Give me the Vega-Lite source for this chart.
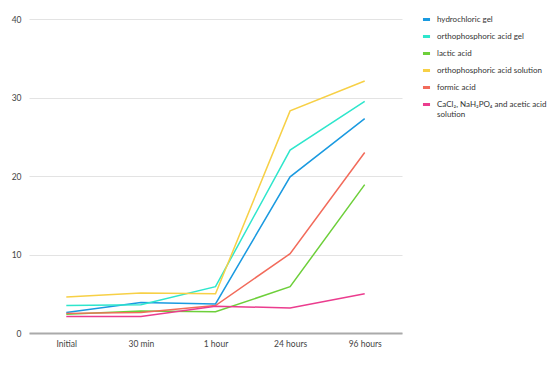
{
  "$schema": "https://vega.github.io/schema/vega-lite/v6.json",
  "width": 373,
  "height": 314,
  "autosize": "none",
  "padding": {"left": 29, "top": 19, "right": 148, "bottom": 33},
  "background": "white",
  "config": {"font": "Lato", "view": {"stroke": null}},
  "data": {"values": [
    {"t": "Initial", "s": "hydrochloric gel", "v": 2.6},
    {"t": "30 min", "s": "hydrochloric gel", "v": 3.9},
    {"t": "1 hour", "s": "hydrochloric gel", "v": 3.7},
    {"t": "24 hours", "s": "hydrochloric gel", "v": 19.9},
    {"t": "96 hours", "s": "hydrochloric gel", "v": 27.3},
    {"t": "Initial", "s": "orthophosphoric acid gel", "v": 3.5},
    {"t": "30 min", "s": "orthophosphoric acid gel", "v": 3.6},
    {"t": "1 hour", "s": "orthophosphoric acid gel", "v": 5.9},
    {"t": "24 hours", "s": "orthophosphoric acid gel", "v": 23.3},
    {"t": "96 hours", "s": "orthophosphoric acid gel", "v": 29.5},
    {"t": "Initial", "s": "lactic acid", "v": 2.4},
    {"t": "30 min", "s": "lactic acid", "v": 2.8},
    {"t": "1 hour", "s": "lactic acid", "v": 2.7},
    {"t": "24 hours", "s": "lactic acid", "v": 5.9},
    {"t": "96 hours", "s": "lactic acid", "v": 18.9},
    {"t": "Initial", "s": "orthophosphoric acid solution", "v": 4.6},
    {"t": "30 min", "s": "orthophosphoric acid solution", "v": 5.1},
    {"t": "1 hour", "s": "orthophosphoric acid solution", "v": 5.0},
    {"t": "24 hours", "s": "orthophosphoric acid solution", "v": 28.3},
    {"t": "96 hours", "s": "orthophosphoric acid solution", "v": 32.1},
    {"t": "Initial", "s": "formic acid", "v": 2.5},
    {"t": "30 min", "s": "formic acid", "v": 2.6},
    {"t": "1 hour", "s": "formic acid", "v": 3.5},
    {"t": "24 hours", "s": "formic acid", "v": 10.1},
    {"t": "96 hours", "s": "formic acid", "v": 23.0},
    {"t": "Initial", "s": "CaCl₂, NaH₂PO₄ and acetic acid solution", "v": 2.1},
    {"t": "30 min", "s": "CaCl₂, NaH₂PO₄ and acetic acid solution", "v": 2.1},
    {"t": "1 hour", "s": "CaCl₂, NaH₂PO₄ and acetic acid solution", "v": 3.4},
    {"t": "24 hours", "s": "CaCl₂, NaH₂PO₄ and acetic acid solution", "v": 3.2},
    {"t": "96 hours", "s": "CaCl₂, NaH₂PO₄ and acetic acid solution", "v": 5.0}
  ]},
  "mark": {"type": "line", "strokeWidth": 1.5, "interpolate": "linear"},
  "encoding": {
    "x": {
      "field": "t", "type": "ordinal",
      "sort": ["Initial", "30 min", "1 hour", "24 hours", "96 hours"],
      "scale": {"type": "point", "padding": 0.5},
      "axis": {"title": null, "domain": true, "domainColor": "#aaaaaa", "domainWidth": 2, "ticks": false, "labelAngle": 0, "labelFontSize": 8.5, "labelColor": "#444444", "labelPadding": 6}
    },
    "y": {
      "field": "v", "type": "quantitative",
      "scale": {"domain": [0, 40], "nice": false},
      "axis": {"title": null, "values": [0, 10, 20, 30, 40], "grid": true, "domain": false, "ticks": false, "labelFontSize": 8.5, "labelColor": "#444444", "labelPadding": 8, "gridColor": "#e3e3e3", "gridWidth": 1}
    },
    "color": {
      "field": "s", "type": "nominal",
      "scale": {
        "domain": ["hydrochloric gel", "orthophosphoric acid gel", "lactic acid", "orthophosphoric acid solution", "formic acid", "CaCl₂, NaH₂PO₄ and acetic acid solution"],
        "range": ["#1a9ae0", "#2ee6cc", "#6dcf3a", "#f7d046", "#f26b5b", "#eb3c8e"]
      },
      "legend": {
        "title": null,
        "orient": "none",
        "legendX": 392,
        "legendY": -5,
        "symbolType": "stroke",
        "symbolStrokeWidth": 3,
        "symbolSize": 50,
        "labelFontSize": 8,
        "labelOffset": 5,
        "labelColor": "#333333",
        "rowPadding": 4,
        "labelLimit": 200,
        "labelExpr": "datum.label == 'CaCl₂, NaH₂PO₄ and acetic acid solution' ? ['CaCl₂, NaH₂PO₄ and acetic acid', 'solution'] : datum.label"
      }
    }
  }
}
